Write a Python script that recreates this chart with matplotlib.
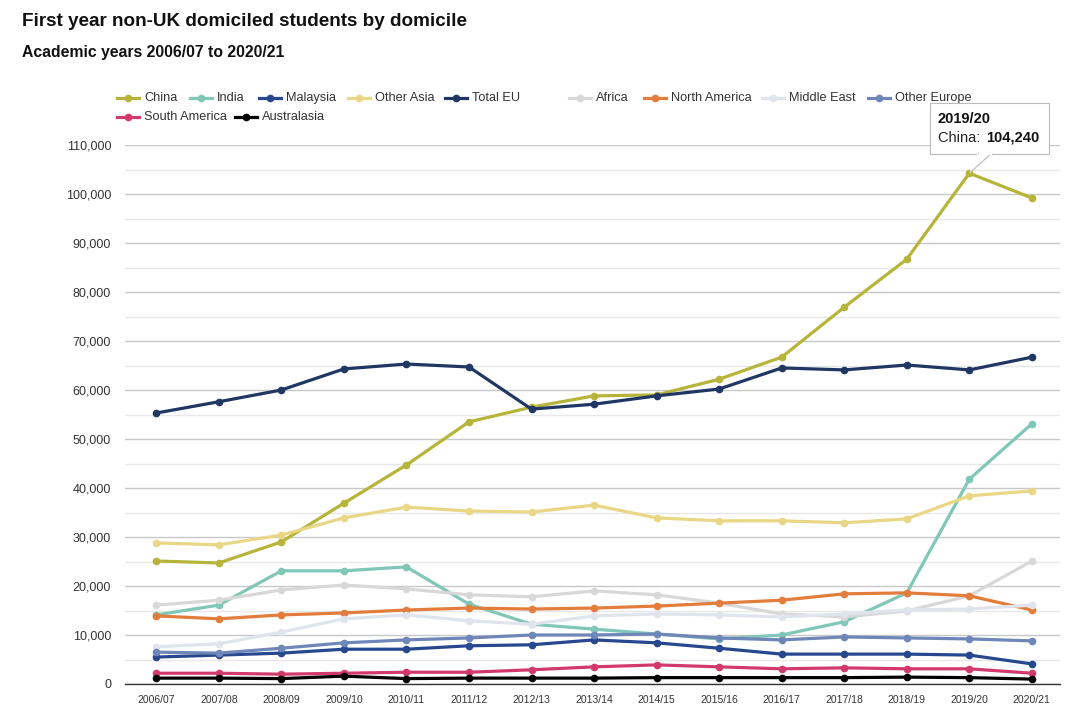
import numpy as np
import matplotlib
matplotlib.use('Agg')
import matplotlib.pyplot as plt
from matplotlib.lines import Line2D
from matplotlib.patches import Polygon
from matplotlib.ticker import FuncFormatter, MultipleLocator

plt.rcParams['font.family'] = ['Liberation Sans', 'DejaVu Sans']

years = ['2006/07', '2007/08', '2008/09', '2009/10', '2010/11', '2011/12', '2012/13', '2013/14',
         '2014/15', '2015/16', '2016/17', '2017/18', '2018/19', '2019/20', '2020/21']

china = [25100, 24700, 29000, 36900, 44700, 53500, 56500, 58800, 59000, 62200, 66700, 76900, 86700, 104240, 99200]
india = [14100, 16100, 23100, 23100, 23900, 16300, 12200, 11200, 10200, 9200, 10000, 12700, 18600, 41800, 53100]
malaysia = [5500, 5900, 6300, 7100, 7100, 7800, 8000, 9000, 8400, 7300, 6100, 6100, 6100, 5900, 4100]
other_asia = [28800, 28400, 30400, 33900, 36100, 35300, 35100, 36500, 33900, 33300, 33300, 32900, 33700, 38400, 39400]
total_eu = [55300, 57600, 60000, 64300, 65300, 64700, 56100, 57100, 58800, 60200, 64500, 64100, 65100, 64100, 66700]
africa = [16100, 17100, 19200, 20200, 19400, 18200, 17800, 19000, 18200, 16500, 14300, 13700, 14900, 18000, 25100]
north_america = [13900, 13300, 14100, 14500, 15100, 15500, 15300, 15500, 15900, 16500, 17100, 18400, 18600, 18000, 15100]
middle_east = [7600, 8200, 10600, 13300, 14100, 12900, 12200, 13900, 14300, 14100, 13700, 14300, 15100, 15300, 16100]
other_europe = [6500, 6300, 7300, 8400, 9000, 9400, 10000, 10000, 10200, 9400, 9000, 9600, 9400, 9200, 8800]
south_america = [2200, 2200, 2000, 2200, 2400, 2400, 2900, 3500, 3900, 3500, 3100, 3300, 3100, 3100, 2200]
australasia = [1200, 1200, 1100, 1600, 1100, 1200, 1200, 1200, 1300, 1300, 1300, 1300, 1400, 1300, 1000]

series = [
    ('China', china, '#b7b43a'),
    ('India', india, '#80c7b7'),
    ('Malaysia', malaysia, '#27478f'),
    ('Other Asia', other_asia, '#e9d785'),
    ('Total EU', total_eu, '#203763'),
    ('Africa', africa, '#d8d8d8'),
    ('North America', north_america, '#e27d3c'),
    ('Middle East', middle_east, '#e1e4ec'),
    ('Other Europe', other_europe, '#6e87b8'),
    ('South America', south_america, '#d23a6b'),
    ('Australasia', australasia, '#000000'),
]

W, H = 1088, 712
fig = plt.figure(figsize=(W / 100, H / 100), dpi=100)
ax = fig.add_axes([125 / W, 1 - 684 / H, (1060 - 125) / W, (684 - 145) / H])

x = np.arange(len(years))
for name, vals, col in series:
    ax.plot(x, vals, color=col, lw=2.3, marker='o', ms=4.5, solid_joinstyle='round', solid_capstyle='round')

ax.set_xlim(-0.5, 14.45)
ax.set_ylim(0, 110000)
ax.yaxis.set_major_locator(MultipleLocator(10000))
ax.yaxis.set_minor_locator(MultipleLocator(5000))
ax.yaxis.set_major_formatter(FuncFormatter(lambda v, p: f'{int(v):,}'))
ax.grid(axis='y', which='major', color='#c8c8c8', lw=1)
ax.grid(axis='y', which='minor', color='#e8e8e8', lw=1)
ax.set_axisbelow(True)
ax.set_xticks(x)
ax.set_xticklabels(years, fontsize=7.5, color='#333333')
ax.tick_params(axis='x', length=0, pad=8)
ax.tick_params(axis='y', which='both', length=0, labelsize=9, labelcolor='#333333', pad=10)
for s in ['left', 'right', 'top']:
    ax.spines[s].set_visible(False)
ax.spines['bottom'].set_color('#333333')
ax.spines['bottom'].set_linewidth(1)

fig.text(22 / W, 1 - 22 / H, 'First year non-UK domiciled students by domicile', fontsize=13.6,
         fontweight='bold', va='center', ha='left', color='#111111')
fig.text(22 / W, 1 - 53 / H, 'Academic years 2006/07 to 2020/21', fontsize=11.3,
         fontweight='bold', va='center', ha='left', color='#111111')

# legend, laid out in two rows as in the source
leg_pos = [(117, 98), (190, 98), (259, 98), (348, 98), (445, 98), (569, 98), (644, 98), (762, 98), (868, 98),
           (117, 117), (235, 117)]
for (name, vals, col), (lx, ly) in zip(series, leg_pos):
    yy = 1 - ly / H
    fig.add_artist(Line2D([lx / W, (lx + 22) / W], [yy, yy], color=col, lw=2.3,
                          transform=fig.transFigure))
    fig.add_artist(Line2D([(lx + 11) / W], [yy], color=col, marker='o', ms=4.5,
                          transform=fig.transFigure))
    fig.text((lx + 27) / W, yy, name, fontsize=9.2, color='#333333', va='center', ha='left')

# tooltip
px, py = ax.transData.transform((13, 104240))
px, py = px / W, py / H
fig.patches.append(plt.Rectangle((930 / W, 1 - 154 / H), 119 / W, 51 / H, transform=fig.transFigure,
                                 facecolor='white', edgecolor='#bbbbbb', lw=0.8, zorder=5))
fig.patches.append(Polygon([(978 / W, 1 - 153 / H), (992 / W, 1 - 153 / H), (px, py)], closed=False,
                           transform=fig.transFigure, facecolor='white', edgecolor='#bbbbbb', lw=0.8, zorder=5))
fig.patches.append(plt.Rectangle((978.5 / W, 1 - 155 / H), 13 / W, 3 / H, transform=fig.transFigure,
                                 facecolor='white', edgecolor='none', zorder=5.5))
fig.text(938 / W, 1 - 119 / H, '2019/20', fontsize=10.5, fontweight='bold', color='#111111',
         va='center', ha='left', zorder=6)
fig.text(938 / W, 1 - 138 / H, 'China: ', fontsize=10.5, color='#222222', va='center', ha='left', zorder=6)
fig.text(986 / W, 1 - 138 / H, '104,240', fontsize=10.5, fontweight='bold', color='#111111',
         va='center', ha='left', zorder=6)

fig.savefig('out.png', dpi=100)
